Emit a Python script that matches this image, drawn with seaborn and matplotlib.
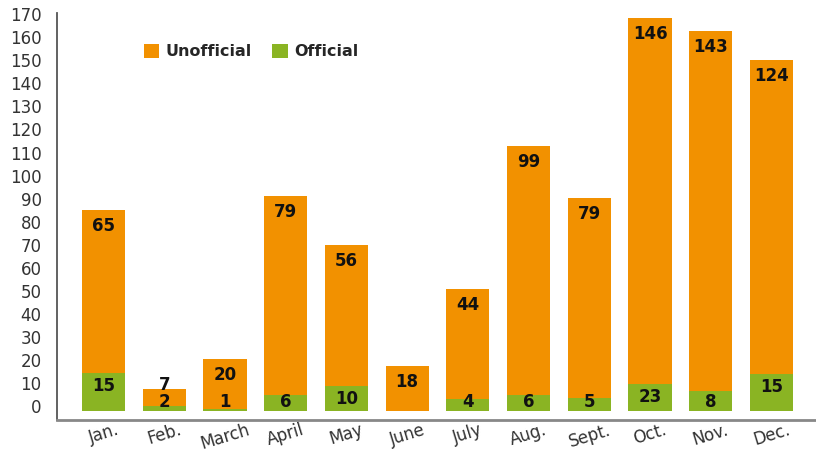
import matplotlib
matplotlib.use("Agg")
import matplotlib.pyplot as plt
import matplotlib.transforms as mtransforms
from matplotlib.patches import Patch
import seaborn as sns
import pandas as pd

months = ["Jan.", "Feb.", "March", "April", "May", "June", "July",
          "Aug.", "Sept.", "Oct.", "Nov.", "Dec."]
# bar heights as drawn in the picture (axis units)
official = [16.6, 2.2, 1.0, 6.9, 11.0, 0.0, 5.2, 6.9, 5.8, 11.8, 8.8, 16.2]
unofficial = [70.6, 7.3, 21.5, 86.3, 61.0, 19.5, 47.7, 108.1, 86.6, 158.6, 156.0, 136.0]
# printed data labels
unofficial_labels = ["65", "7", "20", "79", "56", "18", "44", "99", "79", "146", "143", "124"]
official_labels = ["15", "2", "1", "6", "10", "", "4", "6", "5", "23", "8", "15"]
yticks = list(range(0, 171, 10))

ORANGE = "#F29100"
GREEN = "#8AB423"

df = pd.DataFrame({
    "month": months,
    "official": official,
    "total": [o + u for o, u in zip(official, unofficial)],
})

sns.set_theme(style="white")
plt.rcParams["font.family"] = ["DejaVu Sans"]

fig = plt.figure(figsize=(8.16, 4.53), dpi=100)
ax = fig.add_axes([57 / 816, (453 - 419.5) / 453, 761 / 816, 406 / 453])

sns.barplot(data=df, x="month", y="total", color=ORANGE, width=0.71,
            saturation=1, ax=ax, linewidth=0, edgecolor="none")
sns.barplot(data=df, x="month", y="official", color=GREEN, width=0.71,
            saturation=1, ax=ax, linewidth=0, edgecolor="none")

ax.set_xlim(-0.766, 11.766)
ax.set_ylim(-3.7, 172.5)
ax.set_yticks(yticks)
ax.set_yticklabels([str(t) for t in yticks])
ax.set_xlabel("")
ax.set_ylabel("")

ax.tick_params(axis="y", length=0, pad=11, labelsize=12, labelcolor="#333333")
ax.tick_params(axis="x", length=0, pad=1, labelsize=12, labelcolor="#333333")
for lab in ax.get_xticklabels():
    lab.set_rotation(17)
    lab.set_ha("center")

offset = mtransforms.ScaledTranslation(0, 5 / 100, fig.dpi_scale_trans)
for lab in ax.get_yticklabels():
    lab.set_transform(lab.get_transform() + offset)

for s in ["top", "right"]:
    ax.spines[s].set_visible(False)
ax.spines["left"].set_color("#555555")
ax.spines["left"].set_linewidth(1.3)
ax.spines["bottom"].set_color("#888888")
ax.spines["bottom"].set_linewidth(2.0)
ax.grid(False)

px = 1 / 2.306  # units per pixel
for i in range(len(months)):
    g = official[i]
    tot = official[i] + unofficial[i]
    gy = max(g - 13 * px, 4.0)
    if official_labels[i]:
        ax.text(i, gy, official_labels[i], ha="center", va="center",
                fontsize=12, fontweight="bold", color="#111111")
    oy = max(tot - 16 * px, gy + 17 * px)
    ax.text(i, oy, unofficial_labels[i], ha="center", va="center",
            fontsize=12, fontweight="bold", color="#111111")

handles = [Patch(facecolor=ORANGE, edgecolor="none", label="Unofficial"),
           Patch(facecolor=GREEN, edgecolor="none", label="Official")]
leg = ax.legend(handles=handles, loc="center left", bbox_to_anchor=(0.114, 0.906),
                ncol=2, frameon=False, borderpad=0, borderaxespad=0,
                handlelength=0.95, handleheight=0.95, handletextpad=0.4,
                columnspacing=1.3, prop={"size": 11.5, "weight": "bold"})

fig.savefig("out.png", dpi=100)
